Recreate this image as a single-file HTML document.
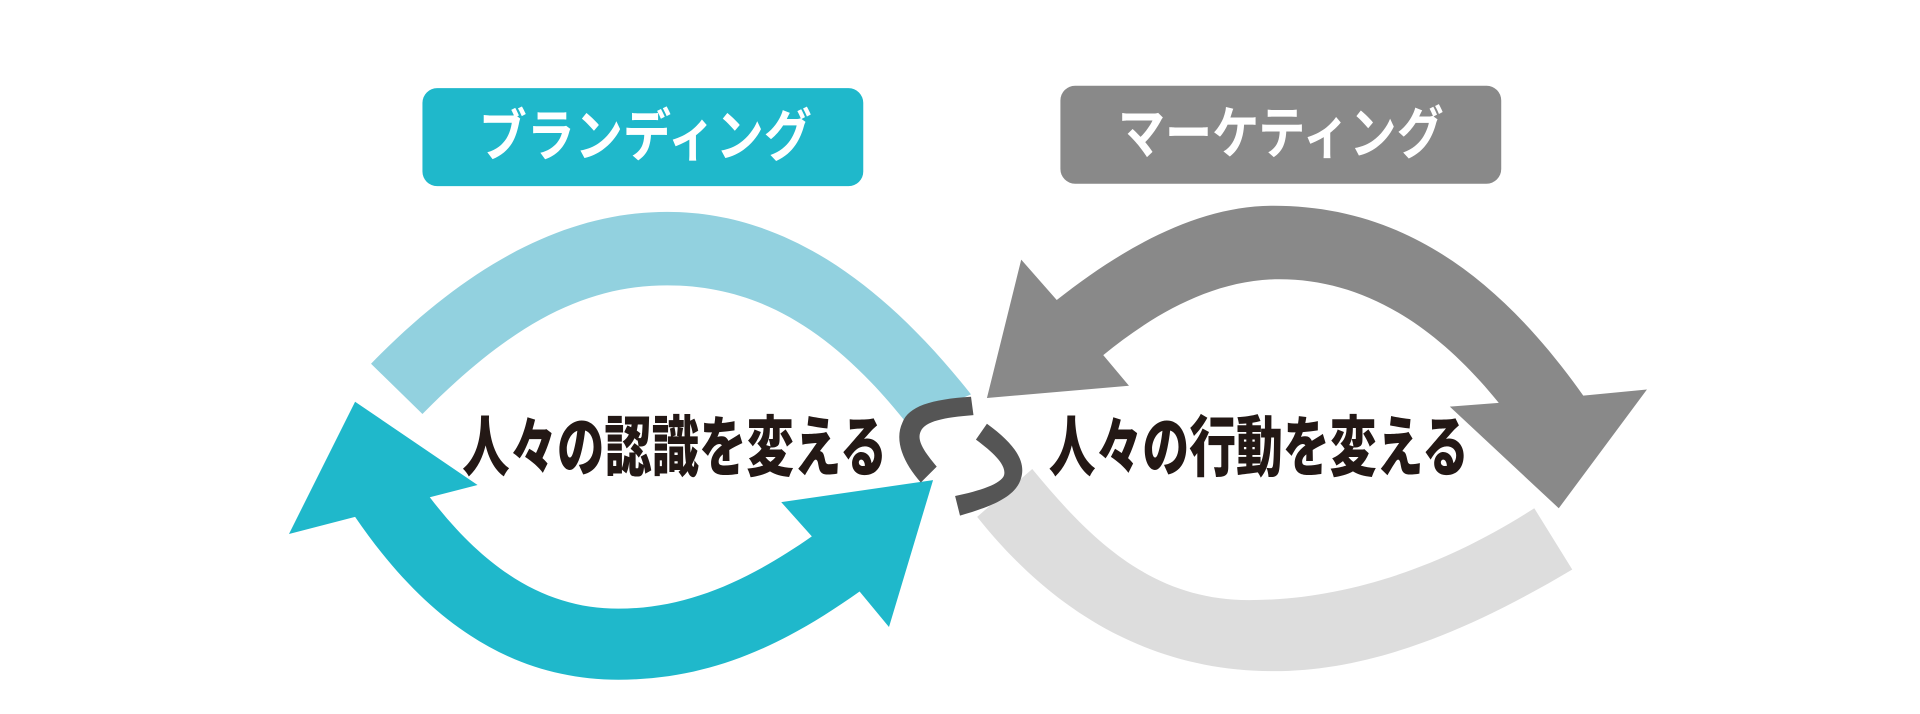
<!DOCTYPE html>
<html><head><meta charset="utf-8"><style>
html,body{margin:0;padding:0;background:#fff;}
svg{display:block;}
</style></head><body>
<svg width="1920" height="714" viewBox="0 0 1568 583" preserveAspectRatio="none" xmlns="http://www.w3.org/2000/svg">
<rect width="1568" height="583" fill="#fff"/>
<rect x="345" y="72" width="360" height="80" rx="12" fill="#1fb8cb"/>
<rect x="866" y="70" width="360" height="80" rx="12" fill="#898989"/>
<text x="527" y="127" text-anchor="middle" fill="#fff" font-family="'Liberation Sans','Noto Sans CJK JP',sans-serif" font-weight="700" font-size="46" textLength="272" lengthAdjust="spacingAndGlyphs">ブランディング</text>
<text x="1046" y="125" text-anchor="middle" fill="#fff" font-family="'Liberation Sans','Noto Sans CJK JP',sans-serif" font-weight="700" font-size="46" textLength="266" lengthAdjust="spacingAndGlyphs">マーケティング</text>
<path d="M303,297 C380,218 460,173 545,173 C640,173 720,230 793,322 L740,345 C680,270 620,233 545,233 C480,233 420,262 345,338 Z" fill="#92d1df"/>
<path d="M798,422 C860,500 940,548 1040,548 C1120,548 1200,515 1284,465 L1253,415 C1180,462 1100,490 1020,490 C940,490 890,440 843,383 Z" fill="#dddddd"/>
<path d="M290,328 L390,396 L351,406 C400,470 450,497 505,497 C560,497 610,475 663,438 L638,410 L762,392 L726,512 L702,483 C640,527 580,555 505,555 C420,555 350,510 290,422 L236,436 Z" fill="#1fb8cb"/>
<path d="M834,212 L863,245 C920,200 980,168 1040,168 C1140,168 1220,220 1293,323 L1345,318 L1273,415 L1184,332 L1224,329 C1170,262 1110,228 1045,228 C990,228 940,258 901,290 L922,315 L806,325 Z" fill="#898989"/>
<path d="M793,324 C760,326 742,332 737,345 C730,360 738,378 752,394 L765,381 C756,370 748,360 752,352 C756,344 770,341 795,339 Z" fill="#555"/>
<path d="M806,346 C828,362 838,376 834,390 C830,406 808,414 784,421 L780,405 C800,401 818,395 820,388 C822,380 812,370 797,359 Z" fill="#555"/>
<text x="551" y="384" text-anchor="middle" fill="#231815" font-family="'Liberation Sans','Noto Sans CJK JP',sans-serif" font-weight="900" font-size="54" textLength="347" lengthAdjust="spacingAndGlyphs">人々の認識を変える</text>
<text x="1028" y="384" text-anchor="middle" fill="#231815" font-family="'Liberation Sans','Noto Sans CJK JP',sans-serif" font-weight="900" font-size="54" textLength="343" lengthAdjust="spacingAndGlyphs">人々の行動を変える</text>
</svg>
</body></html>
